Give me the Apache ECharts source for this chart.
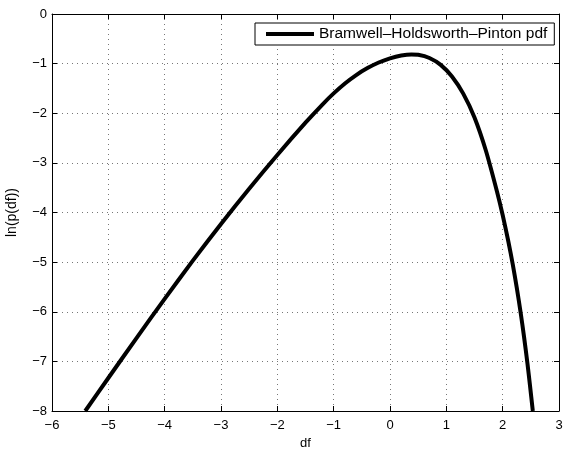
<!DOCTYPE html>
<html>
<head>
<meta charset="utf-8">
<script src="https://cdn.jsdelivr.net/npm/echarts@6/dist/echarts.min.js"></script>
<style>
html,body{margin:0;padding:0;background:#fff;}
#chart{width:564px;height:452px;}
</style>
</head>
<body>
<div id="chart"></div>
<script>
// Data
const dfValues  = [-5.41, -5.00, -4.50, -4.00, -3.50, -3.00, -2.50, -2.00, -1.50, -1.20, -1.00, -0.80, -0.60, -0.40, -0.20, 0.00, 0.20, 0.38, 0.50, 0.70, 0.90, 1.10, 1.30, 1.50, 1.70, 1.90, 2.00, 2.10, 2.18, 2.25, 2.32, 2.38, 2.44, 2.485, 2.535];
const lnPValues = [-8.00, -7.335, -6.53, -5.74, -4.97, -4.23, -3.52, -2.84, -2.19, -1.824, -1.60, -1.40, -1.23, -1.09, -0.978, -0.894, -0.838, -0.816, -0.822, -0.886, -1.025, -1.26, -1.605, -2.085, -2.745, -3.58, -4.05, -4.58, -5.052, -5.514, -6.025, -6.511, -7.045, -7.486, -8.00];
const seriesName = 'Bramwell\u2013Holdsworth\u2013Pinton pdf';
const xTicks = {min: -6, max: 3, interval: 1};
const yTicks = {min: -8, max: 0, interval: 1};
const xName = 'df';
const yName = 'ln(p(df))';

const fontFam = 'Liberation Sans, Arial, Helvetica, sans-serif';
const minus = v => String(v).replace('-', '\u2212');

const chart = echarts.init(document.getElementById('chart'), null, {renderer: 'canvas'});
const tickStyle = {show: true, inside: true, length: 5, lineStyle: {color: '#000', width: 1}};
const gridLine = {show: true, lineStyle: {color: '#777', width: 1, type: [1, 4]}};

chart.setOption({
  animation: false,
  backgroundColor: '#fff',
  grid: {left: 52, right: 5, top: 14, bottom: 41, containLabel: false, outerBoundsMode: 'none'},
  legend: {
    show: true,
    left: 255, top: 23,
    padding: [3, 7, 3, 11],
    borderColor: '#000', borderWidth: 1,
    backgroundColor: '#fff',
    icon: 'rect',
    itemWidth: 48, itemHeight: 4, itemGap: 5,
    textStyle: {fontFamily: fontFam, fontSize: 15.5, color: '#000'},
    data: [seriesName]
  },
  xAxis: [{
    type: 'value', position: 'bottom',
    min: xTicks.min, max: xTicks.max, interval: xTicks.interval,
    name: xName, nameLocation: 'middle', nameGap: 24,
    nameTextStyle: {fontFamily: fontFam, fontSize: 13, color: '#000'},
    axisLine: {show: true, onZero: false, lineStyle: {color: '#000', width: 1}},
    axisTick: tickStyle,
    axisLabel: {margin: 8, fontFamily: fontFam, fontSize: 13, color: '#000', formatter: minus},
    splitLine: gridLine
  }, {
    type: 'value', position: 'top',
    min: xTicks.min, max: xTicks.max, interval: xTicks.interval,
    axisLine: {show: true, onZero: false, lineStyle: {color: '#000', width: 1}},
    axisTick: tickStyle, axisLabel: {show: false}, splitLine: {show: false}
  }],
  yAxis: [{
    type: 'value', position: 'left',
    min: yTicks.min, max: yTicks.max, interval: yTicks.interval,
    name: yName, nameLocation: 'middle', nameGap: 33, nameRotate: 90,
    nameTextStyle: {fontFamily: fontFam, fontSize: 14, color: '#000'},
    axisLine: {show: true, onZero: false, lineStyle: {color: '#000', width: 1}},
    axisTick: tickStyle,
    axisLabel: {margin: 5, fontFamily: fontFam, fontSize: 13, color: '#000', formatter: minus},
    splitLine: gridLine
  }, {
    type: 'value', position: 'right',
    min: yTicks.min, max: yTicks.max, interval: yTicks.interval,
    axisLine: {show: true, onZero: false, lineStyle: {color: '#000', width: 1}},
    axisTick: tickStyle, axisLabel: {show: false}, splitLine: {show: false}
  }],
  series: [{
    name: seriesName,
    type: 'line',
    xAxisIndex: 0, yAxisIndex: 0,
    data: dfValues.map((x, i) => [x, lnPValues[i]]),
    showSymbol: false, symbol: 'none',
    smooth: 0.25,
    clip: true,
    lineStyle: {color: '#000', width: 4, join: 'round', cap: 'butt'},
    itemStyle: {color: '#000'}
  }]
});
</script>
</body>
</html>
